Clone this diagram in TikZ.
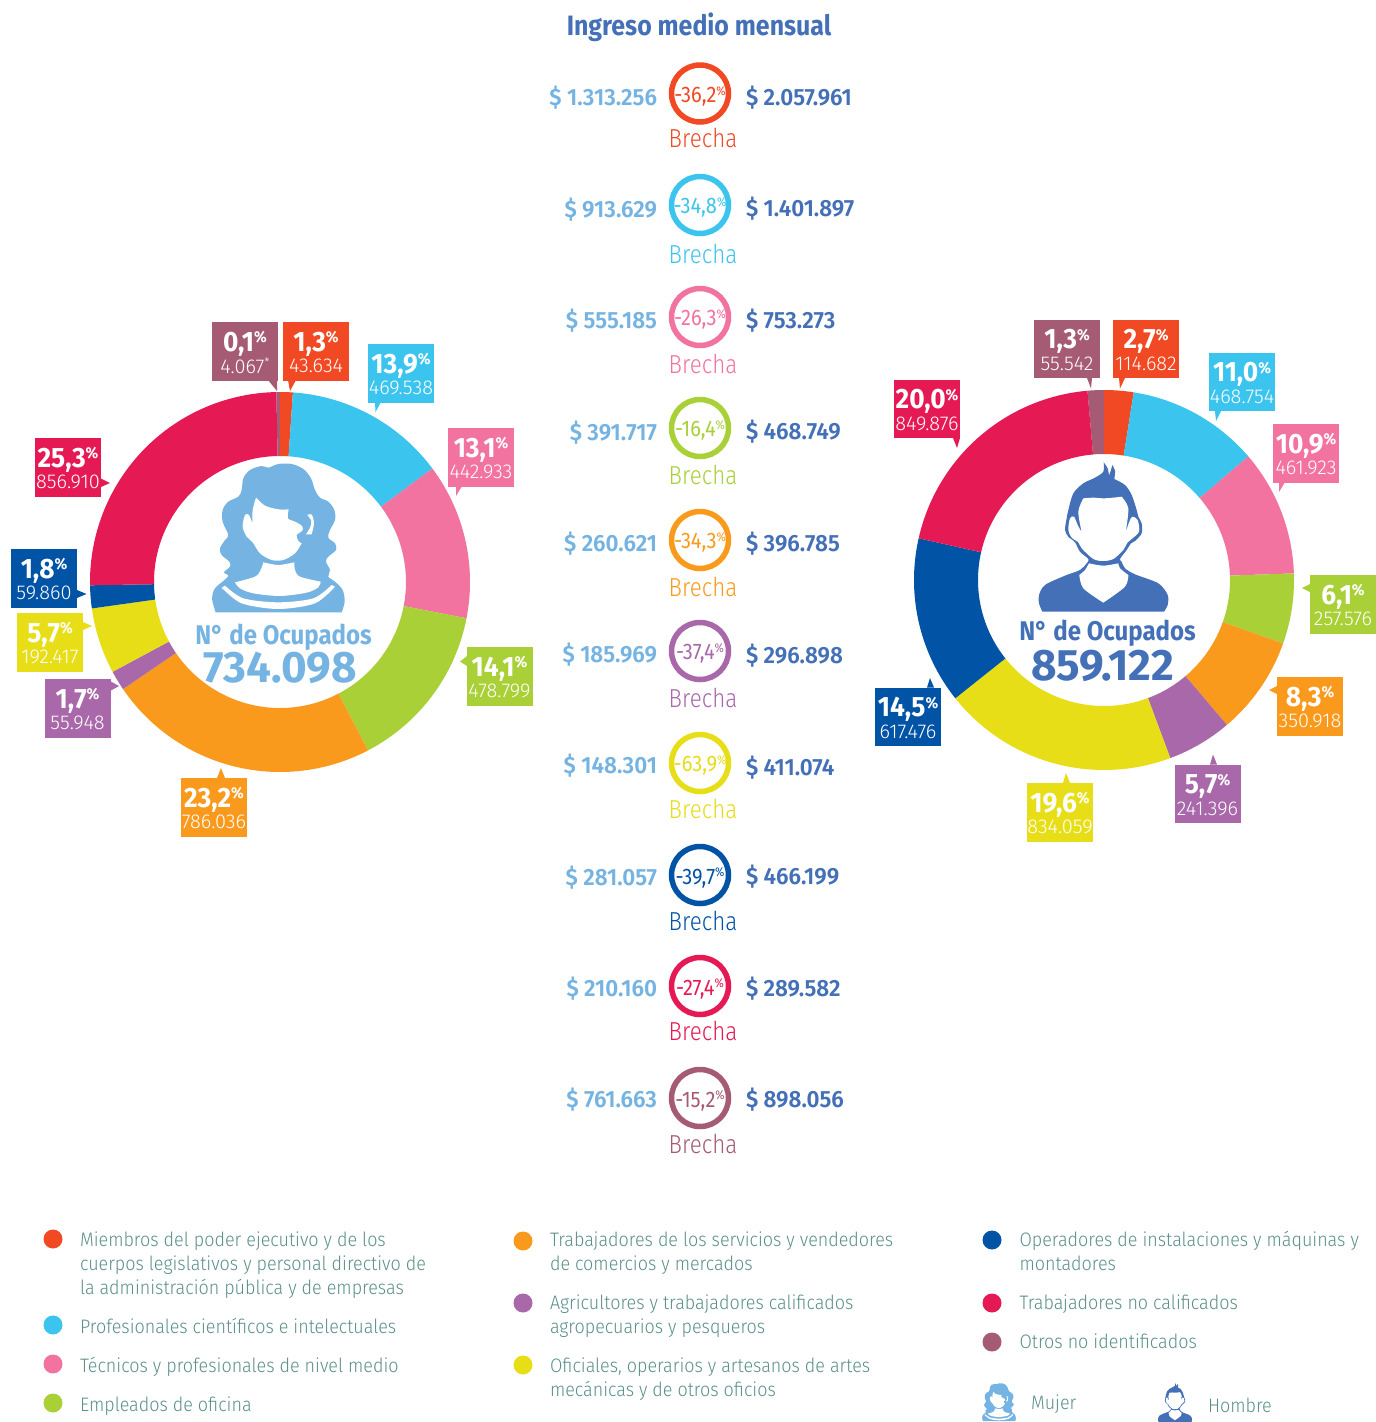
\documentclass[tikz,border=0pt]{standalone}
\usepackage{fontspec}
\usepackage{graphicx}
\setmainfont{Fira Sans}
\newfontfamily\nff[FakeStretch=0.89]{Fira Sans}
\newfontfamily\pctf[FakeStretch=0.94]{Fira Sans}
\newfontfamily\bigf{Fira Sans}
\newfontfamily\semif[FakeStretch=0.955]{Fira Sans SemiBold}
\newfontfamily\lff[FakeStretch=0.86]{Fira Sans Light}
\newfontfamily\numf{Fira Sans Light}
\newfontfamily\lgf[FakeStretch=0.92]{Fira Sans Light}
\definecolor{cred}{HTML}{F04923}
\definecolor{ccyan}{HTML}{3BC4EE}
\definecolor{cpink}{HTML}{F272A0}
\definecolor{cgreen}{HTML}{A9D037}
\definecolor{corange}{HTML}{FA9A1D}
\definecolor{cpurple}{HTML}{A968AA}
\definecolor{cyellow}{HTML}{E7DE17}
\definecolor{cblue}{HTML}{0053A5}
\definecolor{ccrim}{HTML}{E51A54}
\definecolor{cplum}{HTML}{A55B73}
\definecolor{lblue}{HTML}{75B3E2}
\definecolor{dblue}{HTML}{4470B8}
\definecolor{legtext}{HTML}{5B8F8A}
\newcounter{nn}
\newcommand\pcb{\raisebox{.58ex}{\scalebox{.56}{\%}}}
\newcommand\pcl{\raisebox{.62ex}{\scalebox{.56}{\%}}}
\tikzset{
  txt/.style={inner sep=0pt,outer sep=0pt},
  pctxt/.style={txt,text=white,font=\pctf\bfseries\fontsize{28}{28}\selectfont},
  numtxt/.style={txt,text=white,font=\numf\fontsize{20}{20}\selectfont},
  rowl/.style={txt,anchor=east,text=lblue,font=\semif\fontsize{23.5}{24}\selectfont},
  rowr/.style={txt,anchor=west,text=dblue,font=\semif\fontsize{23.5}{24}\selectfont},
  brecha/.style={txt,font=\lff\fontsize{26}{26}\selectfont},
  ringnode/.style={circle,draw,line width=5.5pt,minimum size=57pt,inner sep=0pt,fill=white},
  ringtxt/.style={txt,font=\nff\fontsize{22.5}{22}\selectfont},
  legtxt/.style={txt,anchor=west,align=left,text=legtext,font=\lgf\fontsize{19.5}{24}\selectfont},
  legdot/.style={circle,inner sep=0pt,minimum size=19pt},
}
% slice: colour, a1, a2, cx, cy, r inner
\newcommand\slice[6]{\fill[#1] plot[domain=#2:#3,samples=70] ({#4+190*sin(\x)},{#5-190*cos(\x)}) -- plot[domain=#3:#2,samples=70] ({#4+#6*sin(\x)},{#5-#6*cos(\x)}) -- cycle;}
% callout: colour, x, y, pct, num, base1, base2, tip
\newcommand\callout[8]{%
  \fill[#1] (#2,#3) rectangle ++(66,58.5);
  \fill[#1] #6 -- #7 -- #8 -- cycle;
  \stepcounter{nn}\node[pctxt] (p\arabic{nn}) at ({#2+33},{#3+22}) {#4\pcb};
  \node[numtxt] (q\arabic{nn}) at ({#2+33},{#3+44}) {#5};
}
% row: colour, y ring, left, right, y left, y right, y brecha, pct
\newcommand\gaprow[8]{%
  \stepcounter{nn}
  \node[ringnode,draw=#1] (r\arabic{nn}) at (700,#2) {};
  \node[ringtxt,text=#1] (s\arabic{nn}) at (700,{#2+2.7}) {#8\pcl};
  \node[rowl] (a\arabic{nn}) at (657,{#5+1}) {#3};
  \node[rowr] (b\arabic{nn}) at (746,{#6+1}) {#4};
  \node[brecha,text=#1] (c\arabic{nn}) at (703,{#7-1}) {Brecha};
}
\newcommand\legitem[6]{%
  \stepcounter{nn}
  \node[legdot,fill=#1] (d\arabic{nn}) at (#2,#3) {};
  \node[legtxt] (e\arabic{nn}) at (#4,#5) {#6};
}
\newcommand\womanicon{%
  \fill[lblue] plot[smooth,tension=.55] coordinates {(47,472)(36,430)(45,400)(70,378)(85,362)(72,352)(90,335)(88,320)(65,300)(60,280)(75,255)(85,240)(68,200)(68,165)(85,140)(115,125)(125,105)(130,70)(150,45)(185,33)(205,38)(235,27)(275,27)(310,42)(333,70)(345,105)(360,128)(385,140)(403,165)(405,195)(390,225)(385,248)(405,265)(408,285)(385,305)(378,320)(390,345)(385,365)(405,380)(428,405)(434,440)(425,472)} -- cycle;
  \fill[white] plot[smooth] coordinates {(168,128)(195,152)(235,163)(266,163)} -- plot[smooth] coordinates {(266,163)(264,190)(285,200)(305,212)(308,226)(290,240)(295,258)(305,265)} -- plot[smooth] coordinates {(305,265)(285,295)(250,315)(215,315)(180,295)(158,262)(140,245)(128,215)(135,180)(147,180)(157,205)} -- plot[smooth] coordinates {(157,205)(158,165)(168,128)} -- cycle;
  \fill[white] plot[smooth] coordinates {(322,180)(335,178)(342,205)(335,238)} -- (318,238) -- plot[smooth] coordinates {(318,238)(330,218)(334,198)(322,180)} -- cycle;
  \fill[white] plot[smooth] coordinates {(190,322)(235,330)(283,322)} -- plot[smooth] coordinates {(283,322)(285,345)(300,365)(362,380)} -- plot[smooth] coordinates {(362,380)(355,397)(320,413)(240,423)(160,415)(120,400)(105,382)} -- plot[smooth] coordinates {(105,382)(165,365)(182,345)(190,322)} -- cycle;
  \fill[white] plot[smooth] coordinates {(75,392)(130,430)(235,442)(340,430)(395,390)} -- (405,395) -- plot[smooth] coordinates {(405,395)(345,445)(235,462)(125,445)(65,398)} -- cycle;
}
\newcommand\manicon{%
  \fill[dblue] plot[smooth] coordinates {(236,22)(248,40)(252,62)} -- plot[smooth] coordinates {(252,62)(258,45)(262,30)} -- plot[smooth] coordinates {(262,30)(270,48)(268,72)} -- plot[smooth] coordinates {(268,72)(300,90)(320,120)(335,165)(340,185)(350,205)(350,235)(330,258)(318,265)(305,285)(285,312)(290,320)(300,340)(330,358)(400,385)(428,420)(428,450)(417,470)} -- plot[smooth] coordinates {(52,470)(42,445)(42,420)(60,390)(120,362)(165,345)(185,325)(190,312)(165,290)(150,262)(130,245)(120,225)(125,190)(130,165)(145,115)(175,85)(210,68)(235,50)(236,22)} -- cycle;
  \fill[white] plot[smooth] coordinates {(175,130)(205,128)(235,130)(265,128)(290,125)} -- plot[smooth] coordinates {(290,125)(310,160)(302,232)} -- plot[smooth] coordinates {(302,232)(313,200)(322,185)(338,195)(342,230)(320,252)(308,262)(295,285)(265,312)(235,318)(205,312)(170,280)(160,262)(140,248)(130,225)(135,190)(147,185)(158,210)(170,232)} -- plot[smooth] coordinates {(170,232)(160,170)(175,130)} -- cycle;
  \fill[white] plot[smooth] coordinates {(192,325)(235,332)(280,325)} -- plot[smooth] coordinates {(280,325)(285,340)(310,360)} -- plot[smooth] coordinates {(310,360)(300,395)(235,443)} -- plot[smooth] coordinates {(235,443)(175,400)(163,360)} -- plot[smooth] coordinates {(163,360)(180,345)(192,325)} -- cycle;
}
\begin{document}
\begin{tikzpicture}[x=1pt,y=-1pt]
\useasboundingbox (0,0) rectangle (1376,1422);
\fill[white] (0,0) rectangle (1376,1422);
% left donut
\def\cx{280}\def\cy{582}\def\ri{126}
\slice{cplum}{-1.1}{0}{\cx}{\cy}{\ri}
\slice{cred}{0}{3.9}{\cx}{\cy}{\ri}
\slice{ccyan}{3.9}{53.3}{\cx}{\cy}{\ri}
\slice{cpink}{53.3}{101}{\cx}{\cy}{\ri}
\slice{cgreen}{101}{152.4}{\cx}{\cy}{\ri}
\slice{corange}{152.4}{235.7}{\cx}{\cy}{\ri}
\slice{cpurple}{235.7}{241.8}{\cx}{\cy}{\ri}
\slice{cyellow}{241.8}{262}{\cx}{\cy}{\ri}
\slice{cblue}{262}{269}{\cx}{\cy}{\ri}
\slice{ccrim}{269}{358.9}{\cx}{\cy}{\ri}
% right donut
\def\cx{1104}\def\cy{580}
\slice{cplum}{-5}{0}{\cx}{\cy}{\ri}
\slice{cred}{0}{9}{\cx}{\cy}{\ri}
\slice{ccyan}{9}{49.4}{\cx}{\cy}{\ri}
\slice{cpink}{49.4}{88}{\cx}{\cy}{\ri}
\slice{cgreen}{88}{109.5}{\cx}{\cy}{\ri}
\slice{corange}{109.5}{139.7}{\cx}{\cy}{\ri}
\slice{cpurple}{139.7}{159.6}{\cx}{\cy}{\ri}
\slice{cyellow}{159.6}{231.5}{\cx}{\cy}{\ri}
\slice{cblue}{231.5}{282.7}{\cx}{\cy}{\ri}
\slice{ccrim}{282.7}{355}{\cx}{\cy}{\ri}
% icons
\begin{scope}[shift={(200,455)},scale=.3333]\womanicon\end{scope}
\begin{scope}[shift={(1025,455)},scale=.3333]\manicon\end{scope}
\begin{scope}[shift={(979,1381)},scale=.085]\womanicon\end{scope}
\begin{scope}[shift={(1154.3,1381.2)},scale=.088]\manicon\end{scope}
% centre labels
\node[txt,text=lblue,font=\nff\bfseries\fontsize{27}{27}\selectfont] (occl) at (283.5,637) {N° de Ocupados};
\node[txt,text=lblue,font=\bigf\bfseries\fontsize{44}{44}\selectfont] (nl) at (280,668) {734.098};
\node[txt,text=dblue,font=\nff\bfseries\fontsize{27}{27}\selectfont] (occr) at (1107.5,633) {N° de Ocupados};
\node[txt,text=dblue,font=\bigf\bfseries\fontsize{44}{44}\selectfont] (nr) at (1102.5,666) {859.122};
% left callouts
\callout{cplum}{212}{322}{0,1}{4.067\raisebox{.7ex}{\scalebox{.6}{*}}}{(268,380)}{(277,380)}{(277,391)}
\callout{cred}{283}{322}{1,3}{43.634}{(288,380)}{(296,380)}{(290,391)}
\callout{ccyan}{368}{344}{13,9}{469.538}{(375,402)}{(381,402)}{(375.5,412)}
\callout{cpink}{448}{428}{13,1}{442.933}{(456,486)}{(462,486)}{(456,496)}
\callout{cgreen}{466.5}{647}{14,1}{478.799}{(467,656)}{(467,666)}{(460,661.5)}
\callout{corange}{181}{778}{23,2}{786.036}{(217,778)}{(225,778)}{(221,768)}
\callout{cpurple}{44.5}{679}{1,7}{55.948}{(110,681)}{(110,691)}{(119,686)}
\callout{cyellow}{17}{613}{5,7}{192.417}{(83,622)}{(83,630)}{(92,626)}
\callout{cblue}{11}{549}{1,8}{59.860}{(77,590)}{(77,598)}{(86.5,594)}
\callout{ccrim}{35}{438}{25,3}{856.910}{(101,478.5)}{(101,487)}{(110,483)}
% right callouts
\callout{cplum}{1034}{319.5}{1,3}{55.542}{(1087,378)}{(1092,378)}{(1091,388.5)}
\callout{cred}{1113}{319.5}{2,7}{114.682}{(1119,378)}{(1125,378)}{(1120,388.5)}
\callout{ccyan}{1209}{352.5}{11,0}{468.754}{(1215,411)}{(1221,411)}{(1216,421)}
\callout{cpink}{1273}{424}{10,9}{461.923}{(1279,482)}{(1285,482)}{(1279,492)}
\callout{cgreen}{1310}{575}{6,1}{257.576}{(1310,584)}{(1310,592)}{(1302,588)}
\callout{corange}{1277}{677}{8,3}{350.918}{(1277,686)}{(1277,694)}{(1269,690)}
\callout{cpurple}{1174.5}{764.5}{5,7}{241.396}{(1210,764.5)}{(1217,764.5)}{(1213,754.5)}
\callout{cyellow}{1027}{783}{19,6}{834.059}{(1063,783)}{(1070,783)}{(1066,773)}
\callout{cblue}{875}{687.5}{14,5}{617.476}{(927,687.5)}{(934,687.5)}{(930,678)}
\callout{ccrim}{894}{379.5}{20,0}{849.876}{(953,438)}{(960,438)}{(957,448)}
% title
\node[txt,text=dblue,font=\nff\bfseries\fontsize{28}{28}\selectfont] (title) at (699,27) {Ingreso medio mensual};
% rows
\gaprow{cred}{93.5}{\$ 1.313.256}{\$ 2.057.961}{97}{97}{139}{-36,2}
\gaprow{ccyan}{205}{\$ 913.629}{\$ 1.401.897}{209}{208}{255}{-34,8}
\gaprow{cpink}{317}{\$ 555.185}{\$ 753.273}{320}{320}{365}{-26,3}
\gaprow{cgreen}{428}{\$ 391.717}{\$ 468.749}{432}{431}{476}{-16,4}
\gaprow{corange}{540}{\$ 260.621}{\$ 396.785}{543}{543}{588}{-34,3}
\gaprow{cpurple}{651}{\$ 185.969}{\$ 296.898}{654}{655}{699}{-37,4}
\gaprow{cyellow}{763}{\$ 148.301}{\$ 411.074}{765}{767}{810}{-63,9}
\gaprow{cblue}{875}{\$ 281.057}{\$ 466.199}{877}{876}{922}{-39,7}
\gaprow{ccrim}{986}{\$ 210.160}{\$ 289.582}{988}{988}{1032}{-27,4}
\gaprow{cplum}{1098}{\$ 761.663}{\$ 898.056}{1099}{1099}{1145}{-15,2}
% legend
\legitem{cred}{53}{1239}{80}{1265}{Miembros del poder ejecutivo y de los\\cuerpos legislativos y personal directivo de\\la administración pública y de empresas}
\legitem{ccyan}{53}{1325}{80}{1326}{Profesionales científicos e intelectuales}
\legitem{cpink}{53}{1364}{80}{1367}{Técnicos y profesionales de nivel medio}
\legitem{cgreen}{53}{1403}{80}{1406}{Empleados de oficina}
\legitem{corange}{523}{1241}{550}{1253}{Trabajadores de los servicios y vendedores\\de comercios y mercados}
\legitem{cpurple}{523}{1303}{550}{1316}{Agricultores y trabajadores calificados\\agropecuarios y pesqueros}
\legitem{cyellow}{523}{1365}{550}{1379}{Oficiales, operarios y artesanos de artes\\mecánicas y de otros oficios}
\legitem{cblue}{992}{1240}{1019.5}{1251}{Operadores de instalaciones y máquinas y\\montadores}
\legitem{ccrim}{992}{1303}{1019.5}{1304}{Trabajadores no calificados}
\legitem{cplum}{992}{1342}{1019.5}{1341}{Otros no identificados}
\node[legtxt] (mujer) at (1031,1404) {Mujer};
\node[legtxt] (hombre) at (1208,1405) {Hombre};
\end{tikzpicture}
\end{document}
